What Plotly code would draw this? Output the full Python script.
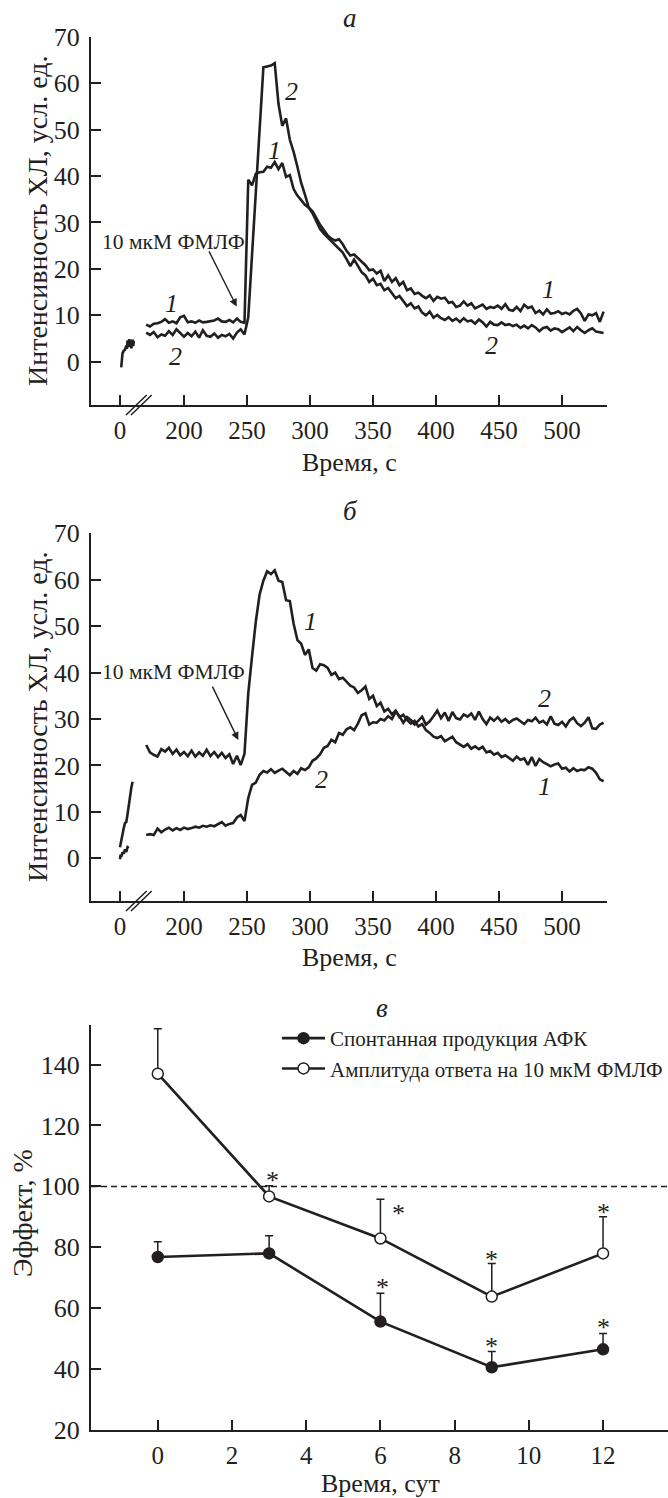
import plotly.graph_objects as go

INK = "#231f20"
FONT = "Liberation Serif"
W, H = 668, 1498

# ---------------- data: panels a and б (time in s, intensity in arb. units) ----------------
BREAK_ZERO = 149.2  # display position of t = 0 on the broken time axis

t_main = list(range(170, 534, 3))

a_init_t = [1, 1.5, 2, 3, 4, 5, 5.5, 6, 7, 7.5, 8, 8.5, 9, 10, 10.5, 11]
a_init_y = [-1.2, 0.5, 1.8, 2.4, 2.6, 3.5, 2.8, 4.6, 3.2, 4.9, 3.6, 4.4, 2.9, 4.8, 3.4, 4.5]

a1 = [8.0, 7.6, 8.2, 8.3, 8.6, 9.2, 8.4, 8.7, 8.3, 9.6, 9.9, 8.5, 8.7, 8.4, 8.9, 8.5, 8.6, 8.8,
      8.9, 9.3, 8.7, 8.6, 9.0, 8.5, 9.3, 8.6, 8.4,
      39.2, 38.0, 40.5, 40.8, 40.9, 42.0, 41.8, 43.0, 41.5, 42.8, 39.8, 40.2, 37.2, 35.8, 34.8,
      33.8, 33.2, 32.4, 31.0, 29.5, 28.4, 27.2, 26.5, 26.1, 26.4, 25.3, 23.9, 22.9, 23.1, 22.3,
      21.4, 20.8, 19.7, 19.9, 19.0, 19.6, 17.4, 18.6, 17.2, 18.0, 16.5, 17.2, 15.4, 15.8, 14.6,
      14.9, 14.2, 13.7, 14.3, 13.1, 14.0, 13.6, 13.8, 12.7, 12.9, 11.8, 12.1, 13.0, 12.1, 12.6,
      11.5, 11.9, 12.3, 11.4, 11.8, 11.6, 12.1, 11.4, 12.4, 11.2, 11.0, 11.8, 10.9, 12.3, 11.6,
      11.9, 10.5, 11.0, 10.2, 11.3, 10.4, 10.5, 10.9, 10.3, 10.6, 10.2, 11.0, 11.4, 10.4, 8.8,
      10.2, 10.0, 10.5, 8.6, 10.8]
a2 = [6.3, 5.8, 6.4, 5.3, 5.9, 5.6, 6.6, 5.8, 7.0, 6.1, 5.4, 6.2, 5.5, 6.5, 5.2, 6.8, 5.6, 5.4,
      6.1, 5.2, 5.8, 5.5, 6.0, 5.0, 6.3, 7.0, 5.9,
      9.6, 23.0, 36.4, 49.7, 63.4, 63.6, 63.8, 64.3, 55.5, 50.8, 52.4, 47.8, 45.2, 42.0, 38.5,
      36.0, 33.2, 32.0, 30.3, 28.6, 27.6, 26.8, 25.9, 25.0, 24.3, 23.5, 22.1, 20.6, 22.0, 20.5,
      19.3, 18.6, 17.2, 17.9, 16.5, 16.8, 15.4, 15.9, 14.8, 13.7, 14.2, 13.0, 12.0, 12.6, 11.5,
      11.9, 10.6, 10.0, 10.8, 9.5, 10.1, 9.4, 9.0, 9.6, 8.8, 9.3, 8.6, 9.4, 8.7, 8.9,
      8.2, 9.1, 8.5, 7.6, 8.6, 8.0, 7.9, 8.5, 7.9, 8.1, 7.7, 8.0, 7.3, 7.8, 7.2,
      7.9, 7.4, 6.6, 7.3, 7.5, 6.7, 7.2, 7.0, 6.4, 7.0, 7.4, 6.6, 7.5, 6.8, 6.2,
      6.8, 7.2, 6.5, 6.4, 6.2]

b1_init_t = [0, 1, 2, 3, 4, 5, 6, 7, 8, 9, 10]
b1_init_y = [2.4, 4.0, 5.3, 6.5, 7.6, 7.8, 9.5, 11.6, 13.4, 15.2, 16.5]
b2_init_t = [0, 0.5, 1, 2, 3, 4, 5, 6, 7]
b2_init_y = [-0.2, 0.8, 0.3, 1.3, 1.0, 1.9, 1.4, 2.4, 2.2]

b1 = [24.4, 22.8, 22.3, 21.9, 23.5, 23.0, 23.8, 22.5, 23.4, 22.2, 22.9, 22.0, 23.2, 21.9, 22.8,
      22.1, 23.4, 22.0, 22.9, 21.8, 22.7, 21.6, 22.4, 20.3, 22.1, 20.1, 22.5,
      35.5, 43.5, 51.0, 56.8, 59.8, 61.8, 61.2, 62.0, 59.8, 59.5, 55.6, 55.4, 50.5, 47.0, 46.2,
      43.8, 45.0, 41.0, 40.4, 41.8, 41.6, 41.0, 39.5, 40.0, 38.6, 38.9, 38.0, 37.2, 36.8, 35.6,
      36.2, 37.0, 34.3, 35.0, 32.8, 33.5, 31.6, 32.2, 31.0, 31.8, 30.4, 30.9, 29.8, 29.0, 29.6,
      28.4, 28.9, 27.6, 27.0, 26.2, 25.9, 26.3, 25.2, 25.8, 26.2, 25.0, 24.5, 24.0, 24.6, 23.6,
      24.1, 23.5, 24.0, 22.8, 23.1, 22.3, 22.7, 21.8, 22.2, 21.6, 21.0, 21.9, 21.2, 21.5, 20.1,
      21.8, 19.9, 21.4, 20.7, 20.3, 19.8, 20.2, 20.4, 19.3, 19.5, 18.7, 19.4, 18.8, 19.1, 19.0,
      19.6, 19.3, 18.4, 17.0, 16.6]
b2 = [5.0, 5.2, 5.0, 6.4, 5.6, 6.2, 6.6, 6.0, 6.5, 6.1, 6.6, 6.3, 6.5, 6.8, 6.6, 7.0, 6.8, 7.1,
      6.9, 7.3, 7.8, 7.0, 7.4, 7.6, 8.8, 9.3, 8.0,
      13.0, 15.8, 16.3, 18.0, 18.8, 18.5, 19.2, 18.4, 18.9, 19.3, 18.6, 17.9, 18.8, 18.2, 19.4,
      19.0, 19.6, 21.0, 21.5, 22.4, 23.8, 24.2, 25.5, 25.0, 27.0, 26.6, 27.8, 28.2, 27.6, 29.0,
      30.8, 31.2, 28.8, 29.3, 29.2, 30.0, 29.7, 30.6, 30.0, 31.6, 30.6, 29.2, 30.4, 29.8, 28.8,
      29.6, 30.5, 28.8, 29.5, 30.6, 31.8, 30.2, 31.4, 29.6, 31.5, 30.2, 29.9, 31.0, 30.5, 31.2,
      29.8, 31.6, 30.0, 28.9, 30.3, 29.6, 30.4, 29.4, 30.0, 29.2, 29.8, 30.1, 29.4, 28.9, 29.8,
      29.5, 30.3, 29.2, 29.6, 28.8, 30.6, 29.0, 28.7, 29.4, 28.4, 29.7, 30.3, 29.1, 28.5, 29.2,
      30.4, 28.0, 27.9, 28.8, 29.2]

ab_tick_labels = ["0", "200", "250", "300", "350", "400", "450", "500"]
ab_tick_values = [0, 200, 250, 300, 350, 400, 450, 500]

# ---------------- data: panel в ----------------
days = [0, 3, 6, 9, 12]
spont = [76.8, 78.0, 55.6, 40.6, 46.5]
spont_err = [5.0, 5.8, 9.3, 5.2, 5.2]
ampl = [137.0, 96.7, 82.9, 63.8, 78.0]
ampl_err = [14.8, 3.5, 12.9, 10.9, 12.0]
star_x = [3.1, 6.5, 9.0, 12.0, 6.05, 9.0, 12.0]
star_y = [103.6, 92.6, 77.6, 93.0, 68.3, 49.2, 55.2]

# ---------------- figure ----------------
fig = go.Figure()
LW = 2.6


def disp(t_list, initial):
    return [BREAK_ZERO + t if initial else t for t in t_list]


def curve(x, y, xa, ya):
    fig.add_trace(go.Scatter(x=x, y=y, mode="lines", xaxis=xa, yaxis=ya, showlegend=False,
                             line=dict(color=INK, width=LW), hoverinfo="skip"))


curve(disp(a_init_t, True), a_init_y, "x", "y")
curve(t_main, a1, "x", "y")
curve(t_main, a2, "x", "y")
curve(disp(b1_init_t, True), b1_init_y, "x2", "y2")
curve(disp(b2_init_t, True), b2_init_y, "x2", "y2")
curve(t_main, b1, "x2", "y2")
curve(t_main, b2, "x2", "y2")

fig.add_trace(go.Scatter(
    x=days, y=spont, mode="lines+markers", xaxis="x3", yaxis="y3",
    name="Спонтанная продукция АФК",
    line=dict(color=INK, width=2.6),
    marker=dict(symbol="circle", size=11, color=INK, line=dict(color=INK, width=1.5)),
    error_y=dict(type="data", symmetric=False, array=spont_err, arrayminus=[0] * len(days),
                 color=INK, thickness=1.5, width=4)))
fig.add_trace(go.Scatter(
    x=days, y=ampl, mode="lines+markers", xaxis="x3", yaxis="y3",
    name="Амплитуда ответа на 10 мкМ ФМЛФ",
    line=dict(color=INK, width=2.6),
    marker=dict(symbol="circle", size=11, color="white", line=dict(color=INK, width=1.5)),
    error_y=dict(type="data", symmetric=False, array=ampl_err, arrayminus=[0] * len(days),
                 color=INK, thickness=1.5, width=4)))

# ---------------- axes ----------------
XD = [91 / W, 607 / W]
XD3 = [91 / W, 1.0]


def ydom(top_px, bot_px):
    return [1 - bot_px / H, 1 - top_px / H]


common = dict(showline=True, linecolor=INK, linewidth=2, ticks="inside", ticklen=10,
              tickwidth=1.5, tickcolor=INK, showgrid=False, zeroline=False,
              fixedrange=True, automargin=False)
xfont = dict(family=FONT, size=25, color=INK)
yfont = dict(family=FONT, size=26, color=INK)

ab_ticks = [BREAK_ZERO if v == 0 else v for v in ab_tick_values]
fig.update_layout(
    xaxis=dict(domain=XD, range=[126.2, 535.7], anchor="y", tickvals=ab_ticks,
               ticktext=ab_tick_labels, ticklabelstandoff=2, tickfont=xfont, **common),
    yaxis=dict(domain=ydom(36.7, 405), range=[-9.3, 70], anchor="x", tickvals=list(range(0, 71, 10)),
               ticklabelstandoff=4, tickfont=yfont, **common),
    xaxis2=dict(domain=XD, range=[126.2, 535.7], anchor="y2", tickvals=ab_ticks,
                ticktext=ab_tick_labels, ticklabelstandoff=2, tickfont=xfont, **common),
    yaxis2=dict(domain=ydom(533.3, 901), range=[-9.2, 70], anchor="x2", tickvals=list(range(0, 71, 10)),
                ticklabelstandoff=4, tickfont=yfont, **common),
    xaxis3=dict(domain=XD3, range=[-1.8, 13.75], anchor="y3", tickvals=[0, 2, 4, 6, 8, 10, 12],
                ticklabelstandoff=2, tickfont=xfont, **common),
    yaxis3=dict(domain=ydom(1025, 1430), range=[20, 153], anchor="x3",
                tickvals=[20, 40, 60, 80, 100, 120, 140], ticklabelstandoff=4, tickfont=yfont,
                **common),
)

# ---------------- annotations ----------------
ann = []


def txt(text, x, y, xref, yref, size=24, **kw):
    d = dict(text=text, x=x, y=y, xref=xref, yref=yref, showarrow=False,
             xanchor="center", yanchor="middle",
             font=dict(family=FONT, size=size, color=INK))
    d.update(kw)
    ann.append(d)


# panel titles
txt("<i>а</i>", 350 / W, 1 - 18 / H, "paper", "paper", size=27)
txt("<i>б</i>", 350 / W, 1 - 511 / H, "paper", "paper", size=27)
txt("<i>в</i>", 382 / W, 1 - 1008 / H, "paper", "paper", size=27)

# axis titles
txt("Интенсивность ХЛ, усл. ед.", 37 / W, 1 - 221 / H, "paper", "paper", size=28, textangle=-90)
txt("Интенсивность ХЛ, усл. ед.", 37 / W, 1 - 717 / H, "paper", "paper", size=28, textangle=-90)
txt("Эффект, %", 22 / W, 1 - 1213 / H, "paper", "paper", size=28, textangle=-90)
txt("Время, с", 349 / W, 1 - 463 / H, "paper", "paper", size=26)
txt("Время, с", 349 / W, 1 - 957 / H, "paper", "paper", size=26)
txt("Время, сут", 380 / W, 1 - 1483 / H, "paper", "paper", size=26)

# curve numbers panel a
for s, x, y in [("1", 190, 12.6), ("2", 193, 1.1), ("2", 285, 58.2), ("1", 272, 45.6),
                ("1", 489, 15.5), ("2", 444, 3.6)]:
    txt(f"<i>{s}</i>", x, y, "x", "y", size=26)
# curve numbers panel б
for s, x, y in [("1", 300, 51.0), ("2", 309, 16.9), ("2", 486, 34.5), ("1", 486, 15.4)]:
    txt(f"<i>{s}</i>", x, y, "x2", "y2", size=26)

# stimulus labels + arrows
txt("10 мкМ ФМЛФ", 250, 25.9, "x", "y", size=21.5, xanchor="right")
txt("10 мкМ ФМЛФ", 250, 40.2, "x2", "y2", size=21.5, xanchor="right")
for xr, yr, x0, y0, x1, y1 in [("x", "y", 219.3, 24.1, 241.8, 11.9),
                                ("x2", "y2", 222.0, 37.3, 243.1, 25.5)]:
    ann.append(dict(x=x1, y=y1, ax=x0, ay=y0, xref=xr, yref=yr, axref=xr, ayref=yr,
                    showarrow=True, arrowhead=2, arrowsize=1.1, arrowwidth=1.4,
                    arrowcolor=INK, text=""))

# significance stars panel в
for x, y in zip(star_x, star_y):
    txt("*", x, y, "x3", "y3", size=26, yshift=-5)

fig.update_layout(annotations=ann)

# ---------------- shapes: axis break marks, 100 % reference line ----------------
shapes = []
for base in (405, 901):
    for dx in (0, 5):
        shapes.append(dict(type="line", xref="paper", yref="paper",
                           x0=(126 + dx) / W, y0=1 - (base + 10) / H,
                           x1=(146.7 + dx) / W, y1=1 - (base - 10) / H,
                           line=dict(color=INK, width=1.5)))
shapes.append(dict(type="line", xref="x3 domain", yref="y3", x0=0, x1=1, y0=100, y1=100,
                   line=dict(color=INK, width=1.5, dash="6px,4px"), layer="below"))
fig.update_layout(shapes=shapes)

fig.update_layout(
    template="none",
    width=W, height=H, autosize=False,
    margin=dict(l=0, r=0, t=0, b=0, pad=0),
    paper_bgcolor="white", plot_bgcolor="white",
    font=dict(family=FONT, color=INK),
    showlegend=True,
    legend=dict(x=277 / W, y=1 - 1018 / H, xanchor="left", yanchor="top",
                font=dict(family=FONT, size=21, color=INK), bgcolor="rgba(0,0,0,0)",
                borderwidth=0, tracegroupgap=0, itemwidth=43),
)

fig.write_html("out.html")
